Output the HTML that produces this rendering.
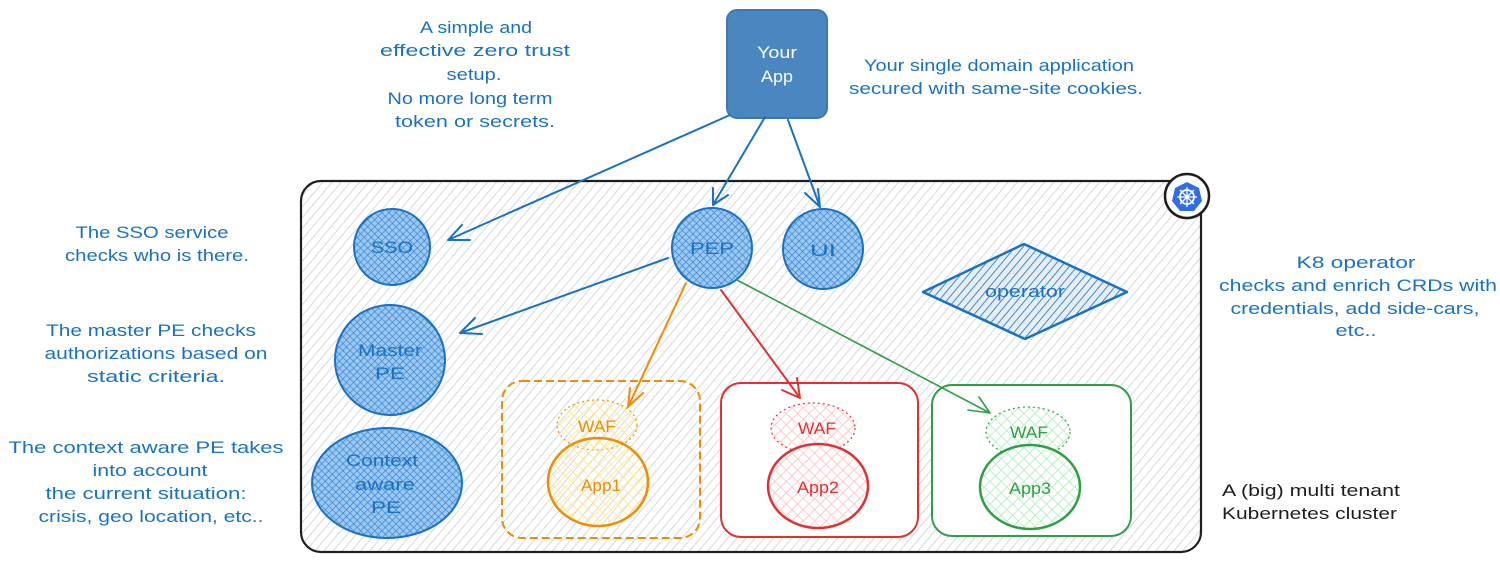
<!DOCTYPE html>
<html><head><meta charset="utf-8"><style>
html,body{margin:0;padding:0;background:#fff;width:1500px;height:565px;overflow:hidden}
svg{display:block}
text{font-family:"Liberation Sans",sans-serif;font-size:17px}
.b{fill:#1971c2}
</style></head><body>
<svg width="1500" height="565" viewBox="0 0 1500 565" xmlns="http://www.w3.org/2000/svg">
<defs>
<pattern id="hatch" width="7" height="7" patternUnits="userSpaceOnUse" patternTransform="rotate(40)">
<rect width="7" height="7" fill="#fff"/><line x1="0" y1="0" x2="0" y2="7" stroke="#c3c9d0" stroke-width="1.4"/></pattern>
<pattern id="cross" width="5" height="5" patternUnits="userSpaceOnUse" patternTransform="rotate(45)">
<rect width="5" height="5" fill="#9cc8f2"/><path d="M0 0V5M0 0H5" stroke="#2f80d0" stroke-width="1.3"/></pattern>
<pattern id="opr" width="6" height="6" patternUnits="userSpaceOnUse" patternTransform="rotate(40)">
<rect width="6" height="6" fill="#e8eef5"/><line x1="0" y1="0" x2="0" y2="6" stroke="#1971c2" stroke-width="1.6"/></pattern>
<pattern id="cy" width="8" height="8" patternUnits="userSpaceOnUse" patternTransform="rotate(45)">
<path d="M0 0V8M0 0H8" stroke="#ffe58a" stroke-width="1.6"/></pattern>
<pattern id="cr" width="8" height="8" patternUnits="userSpaceOnUse" patternTransform="rotate(45)">
<rect width="8" height="8" fill="#fff"/><path d="M0 0V8M0 0H8" stroke="#ffbdbd" stroke-width="1.6"/></pattern>
<pattern id="cg" width="8" height="8" patternUnits="userSpaceOnUse" patternTransform="rotate(45)">
<rect width="8" height="8" fill="#fff"/><path d="M0 0V8M0 0H8" stroke="#a8eeb4" stroke-width="1.6"/></pattern>
</defs>

<!-- cluster -->
<rect x="301" y="181" width="900" height="371" rx="20" fill="url(#hatch)" stroke="#1e1e1e" stroke-width="2.2"/>
<circle cx="1187" cy="196" r="22" fill="#fff" stroke="#1e1e1e" stroke-width="2.5"/>
<polygon points="1187,182 1199,188 1202,201 1194,211 1180,211 1172,201 1175,188" fill="#326ce5"/>
<circle cx="1187" cy="197" r="7" fill="none" stroke="#fff" stroke-width="1.8"/>
<path d="M1187 187V207M1177 197H1197M1180 190L1194 204M1194 190L1180 204" stroke="#fff" stroke-width="1.3"/>

<!-- Your App -->
<rect x="727" y="10" width="100" height="108" rx="10" fill="#4a86bf" stroke="#3f78ad" stroke-width="2"/>
<text x="777" y="58" text-anchor="middle" fill="#fff" textLength="40" lengthAdjust="spacingAndGlyphs">Your</text>
<text x="777" y="82" text-anchor="middle" fill="#fff" textLength="32" lengthAdjust="spacingAndGlyphs">App</text>

<!-- blue nodes -->
<g stroke="#1971c2" stroke-width="2" fill="url(#cross)">
<circle cx="392" cy="247" r="38"/>
<circle cx="712" cy="248" r="40"/>
<circle cx="823" cy="249" r="40"/>
<circle cx="390" cy="360" r="55"/>
<ellipse cx="387" cy="483" rx="75" ry="55"/>
</g>
<polygon points="923,292 1024,244 1127,292 1025,339" fill="url(#opr)" stroke="#1971c2" stroke-width="2.5" stroke-linejoin="round"/>
<g class="b" text-anchor="middle" font-size="18">
<text x="392" y="253" textLength="42" lengthAdjust="spacingAndGlyphs">SSO</text>
<text x="712" y="254" textLength="44" lengthAdjust="spacingAndGlyphs">PEP</text>
<text x="823" y="256" textLength="26" lengthAdjust="spacingAndGlyphs">UI</text>
<text x="390" y="356" textLength="64" lengthAdjust="spacingAndGlyphs">Master</text><text x="390" y="379" textLength="30" lengthAdjust="spacingAndGlyphs">PE</text>
<text x="382" y="466" textLength="72" lengthAdjust="spacingAndGlyphs">Context</text><text x="385" y="490" textLength="60" lengthAdjust="spacingAndGlyphs">aware</text><text x="386" y="513" textLength="30" lengthAdjust="spacingAndGlyphs">PE</text>
<text x="1025" y="297" textLength="80" lengthAdjust="spacingAndGlyphs">operator</text>
</g>

<!-- app boxes -->
<rect x="502" y="381" width="198" height="157" rx="20" fill="none" stroke="#f08c00" stroke-width="2" stroke-dasharray="8 4"/>
<rect x="721" y="383" width="197" height="154" rx="20" fill="#fff" stroke="#e03131" stroke-width="2"/>
<rect x="932" y="385" width="199" height="151" rx="20" fill="#fff" stroke="#2f9e44" stroke-width="2"/>

<ellipse cx="597" cy="425" rx="40" ry="25" fill="url(#cy)" stroke="#f08c00" stroke-width="1.2" stroke-dasharray="2 3"/>
<ellipse cx="598" cy="482" rx="50" ry="44" fill="url(#cy)" stroke="#f08c00" stroke-width="2.5"/>
<ellipse cx="813" cy="428" rx="42" ry="25" fill="url(#cr)" stroke="#e03131" stroke-width="1.2" stroke-dasharray="2 3"/>
<ellipse cx="818" cy="486" rx="50" ry="42" fill="url(#cr)" stroke="#e03131" stroke-width="2.5"/>
<ellipse cx="1028" cy="432" rx="42" ry="25" fill="url(#cg)" stroke="#2f9e44" stroke-width="1.2" stroke-dasharray="2 3"/>
<ellipse cx="1030" cy="487" rx="50" ry="42" fill="url(#cg)" stroke="#2f9e44" stroke-width="2.5"/>
<g text-anchor="middle" font-size="18">
<text x="597" y="432" fill="#f08c00" textLength="38" lengthAdjust="spacingAndGlyphs">WAF</text><text x="601" y="491" fill="#f08c00" textLength="40" lengthAdjust="spacingAndGlyphs">App1</text>
<text x="817" y="434" fill="#e03131" textLength="38" lengthAdjust="spacingAndGlyphs">WAF</text><text x="818" y="493" fill="#e03131" textLength="42" lengthAdjust="spacingAndGlyphs">App2</text>
<text x="1029" y="438" fill="#2f9e44" textLength="38" lengthAdjust="spacingAndGlyphs">WAF</text><text x="1030" y="494" fill="#2f9e44" textLength="42" lengthAdjust="spacingAndGlyphs">App3</text>
</g>

<!-- arrows -->
<g fill="none" stroke-width="2" stroke-linecap="round" stroke-linejoin="round">
<g stroke="#1971c2">
<path d="M730 115L448 240M448 240L462 225M448 240L470 240"/>
<path d="M765 117L713 205M713 205L713 188M713 205L728 195"/>
<path d="M788 120L820 207M820 207L805 193M820 207L818 189"/>
<path d="M668 258L460 333M460 333L475 318M460 333L482 334"/>
</g>
<path stroke="#f08c00" d="M686 283L628 407M628 407L630 388M628 407L643 393"/>
<path stroke="#e03131" d="M721 290L800 398M800 398L782 390M800 398L797 378"/>
<path stroke="#2f9e44" stroke-width="1.6" d="M737 280L990 413M990 413L968 410M990 413L979 397"/>
</g>

<!-- annotations -->
<g class="b" text-anchor="middle" font-size="17">
<text x="476" y="33" textLength="112" lengthAdjust="spacingAndGlyphs">A simple and</text>
<text x="475" y="56" textLength="190" lengthAdjust="spacingAndGlyphs">effective zero trust</text>
<text x="474" y="80" textLength="55" lengthAdjust="spacingAndGlyphs">setup.</text>
<text x="470" y="104" textLength="165" lengthAdjust="spacingAndGlyphs">No more long term</text>
<text x="475" y="127" textLength="160" lengthAdjust="spacingAndGlyphs">token or secrets.</text>
<text x="999" y="71" textLength="270" lengthAdjust="spacingAndGlyphs">Your single domain application</text>
<text x="996" y="94" textLength="294" lengthAdjust="spacingAndGlyphs">secured with same-site cookies.</text>
<text x="152" y="238" textLength="153" lengthAdjust="spacingAndGlyphs">The SSO service</text>
<text x="157" y="261" textLength="184" lengthAdjust="spacingAndGlyphs">checks who is there.</text>
<text x="151" y="336" textLength="210" lengthAdjust="spacingAndGlyphs">The master PE checks</text>
<text x="156" y="359" textLength="223" lengthAdjust="spacingAndGlyphs">authorizations based on</text>
<text x="156" y="382" textLength="138" lengthAdjust="spacingAndGlyphs">static criteria.</text>
<text x="146" y="453" textLength="275" lengthAdjust="spacingAndGlyphs">The context aware PE takes</text>
<text x="150" y="476" textLength="115" lengthAdjust="spacingAndGlyphs">into account</text>
<text x="146" y="499" textLength="201" lengthAdjust="spacingAndGlyphs">the current situation:</text>
<text x="151" y="522" textLength="225" lengthAdjust="spacingAndGlyphs">crisis, geo location, etc..</text>
<text x="1356" y="268" textLength="119" lengthAdjust="spacingAndGlyphs">K8 operator</text>
<text x="1358" y="291" textLength="278" lengthAdjust="spacingAndGlyphs">checks and enrich CRDs with</text>
<text x="1355" y="314" textLength="249" lengthAdjust="spacingAndGlyphs">credentials, add side-cars,</text>
<text x="1356" y="336" textLength="41" lengthAdjust="spacingAndGlyphs">etc..</text>
</g>
<text x="1222" y="496" fill="#1e1e1e" textLength="178" lengthAdjust="spacingAndGlyphs">A (big) multi tenant</text>
<text x="1222" y="519" fill="#1e1e1e" textLength="175" lengthAdjust="spacingAndGlyphs">Kubernetes cluster</text>
</svg>
</body></html>
